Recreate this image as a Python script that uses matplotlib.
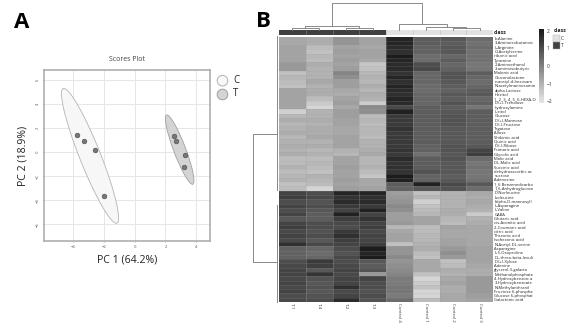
import numpy as np
import matplotlib
matplotlib.use("Agg")
import matplotlib.pyplot as plt
from matplotlib.colors import LinearSegmentedColormap
from matplotlib.patches import Ellipse, Circle, Rectangle

plt.rcParams["font.family"] = ["Open Sans", "DejaVu Sans"]

W, H = 573, 324

# ── Scores plot data ─────────────────────────────────────────────────────── #
C_PC1 = [-3.74, -3.31, -2.58, -2.01]
C_PC2 = [1.44, 0.92, 0.19, -3.64]
T_PC1 = [2.58, 2.66, 3.25, 3.20]
T_PC2 = [1.36, 0.97, -0.22, -1.19]
PCA_TICKS_X = [-4, -2, 0, 2, 4]
PCA_TICKS_Y = [-6, -4, -2, 0, 2, 4, 6]

# ── Heatmap data ─────────────────────────────────────────────────────────── #
METABOLITES = [
    "b-Alanine", "3-Aminoisobutanoic", "L-Arginine", "O-Acetylserine", "ribonic acid",
    "Tyramine", "2-Aminoethanol", "3-aminoisobutyric", "Malonic acid", "Gluconolactone",
    "n-acetyl-d-hexosam", "N-acetylmannosamin", "alpha-Lactose", "Hexitol",
    "1, 2, 3, 4, 5, 6-HEXA-O", "D-(+)-Trehalose", "hydroxylamine", "L-sitol", "Glucose",
    "D-(+)-Mannose", "D-(-)-Fructose", "Tagatose", "Allose", "Shikimic acid", "Quinic acid",
    "D-(-)-Ribose", "Fumaric acid", "Glycolic acid", "Malic acid", "DL-Malic acid",
    "Succinic acid", "dehydroascorbic ac", "sucrose", "Adenosine", "1_6 Benzenedicarbo",
    "1_6-Anhydroglucose", "D-Norleucine", "Isoleucine", "(alpha-D-mannosyl)", "L-Asparagine",
    "L-Valine", "GABA", "Glutaric acid", "cis-Aconitic acid", "2-Coumaric acid", "citric acid",
    "Threonic acid", "Isohexonic acid", "N-Acetyl-DL-serine", "Asparagine", "L-5-Oxoproline",
    "DL-threo-beta-levuli", "D-(+)-Xylose", "Adenine", "glycerol-3-galacto",
    "Methanolphosphate", "4-Hydroxybenzoic a", "3-Hydroxybenzoate", "N-Methylanthranil",
    "Fructose 6-phospha", "Glucose 6-phosphat", "Galactonic acid",
]
SAMPLES = ["T-1", "T-4", "T-2", "T-3", "Control 4", "Control 1", "Control 2", "Control 3"]

T1 = [-0.8, -0.8, -0.7, -0.7, -0.7, -0.7, -0.5, -0.5, -1.3, -1.1,
      -1.2, -1.3, -0.7, -0.7, -0.7, -0.7, -0.7, -1.6, -1.1, -0.9,
      -1.1, -1.0, -0.9, -1.1, -1.0, -0.9, -1.0, -0.9, -1.2, -1.2,
      -1.0, -1.2, -1.1, -1.0, -1.3, -1.2,
      1.2, 1.3, 1.0, 1.2, 1.0, 1.2, 0.8, 1.2, 1.3, 1.1,
      1.2, 1.1, 1.6, 0.6, 0.6, 0.6, 1.0, 1.1, 1.2, 1.2,
      1.1, 1.2, 1.1, 1.2, 1.0, 1.1]
T4 = [-0.9, -0.9, -1.2, -1.3, -1.1, -1.2, -0.9, -1.0, -1.0, -1.0,
      -0.8, -1.0, -0.9, -0.9, -1.2, -1.5, -1.7, -1.0, -1.0, -0.9,
      -1.0, -0.9, -0.9, -0.8, -1.0, -0.9, -1.1, -1.0, -1.2, -1.1,
      -1.2, -1.3, -1.0, -1.1, -1.2, -1.7,
      1.0, 1.1, 0.9, 1.0, 0.8, 0.7, 0.7, 1.0, 1.0, 0.9,
      1.0, 0.8, 1.1, 0.5, 0.4, 0.5, 1.4, 1.3, 0.8, 1.5,
      0.9, 0.8, 0.9, 0.8, 0.9, 1.0]
T2 = [-0.4, -0.4, -0.7, -0.6, -0.7, -0.6, -0.7, -0.6, -0.1, -0.3,
      -0.6, -0.6, -0.8, -0.9, -0.7, -0.6, -0.8, -0.6, -0.6, -0.7,
      -0.7, -0.8, -0.8, -0.7, -0.7, -0.7, -1.0, -1.1, -0.7, -0.7,
      -0.6, -0.7, -0.7, -0.6, -0.7, -0.6,
      1.8, 1.5, 1.7, 1.4, 1.2, 1.9, 1.3, 1.1, 1.0, 1.4,
      1.6, 1.3, 1.2, 1.0, 0.9, 1.1, 1.0, 1.1, 1.2, 1.1,
      1.2, 1.2, 1.6, 1.1, 1.2, 1.7]
T3 = [-0.7, -0.7, -0.8, -0.7, -0.7, -0.8, -1.4, -1.3, -1.1, -1.0,
      -1.1, -0.9, -1.1, -0.9, -1.0, -1.5, -0.2, -0.3, -1.2, -1.1,
      -1.2, -1.1, -1.1, -1.2, -1.0, -1.0, -0.9, -0.8, -1.1, -1.1,
      -1.0, -1.2, -1.4, -0.8, -0.8, -0.7,
      1.8, 1.6, 1.7, 1.4, 1.9, 1.2, 1.5, 1.2, 1.3, 1.1,
      1.2, 1.2, 1.3, 2.0, 1.8, 2.0, 0.8, 0.7, 0.9, -0.5,
      1.2, 1.0, 1.0, 0.9, 1.0, 0.9]
C4 = [1.8, 1.8, 1.7, 1.6, 2.0, 1.8, 1.7, 1.7, 1.5, 1.8,
      1.6, 1.8, 1.7, 1.6, 1.8, 1.7, 1.1, 1.9, 1.4, 1.4,
      1.4, 1.5, 1.4, 1.4, 1.4, 1.4, 1.5, 1.4, 1.7, 1.5,
      1.6, 1.5, 2.0, 1.9, 0.7, 0.6,
      -0.6, -0.5, -0.4, -0.2, -0.3, -0.6, -0.6, -0.5, -1.1, -0.8,
      -0.7, -0.7, -1.3, -0.4, -0.4, -0.2, -0.4, -0.3, -0.2, -0.1,
      0.1, 0.1, 0.2, 0.2, 0.1, 0.4]
C1 = [0.7, 0.7, 0.6, 0.6, 0.4, 0.4, 1.0, 1.1, 0.5, 0.5,
      0.5, 0.4, 0.4, 0.5, 0.5, 0.5, 0.7, 0.7, 0.7, 0.7,
      0.7, 0.7, 0.7, 0.7, 0.7, 0.6, 0.6, 0.3, 0.7, 0.7,
      0.7, 0.9, 0.6, 0.6, 1.9, 0.8,
      -1.3, -1.1, -1.6, -1.3, -1.2, -1.1, -0.7, -0.7, -1.2, -1.2,
      -1.1, -1.1, -1.0, -0.9, -1.2, -1.3, -0.8, -0.8, -0.8, -1.3,
      -1.7, -1.5, -1.3, -1.7, -1.7, -1.2]
C2 = [0.8, 0.7, 0.8, 0.8, 0.5, 0.7, 0.5, 0.6, 0.9, 0.9,
      0.8, 0.7, 0.6, 0.8, 0.7, 0.9, 0.7, 0.8, 0.9, 0.9,
      0.9, 0.8, 0.8, 0.8, 0.8, 0.9, 0.9, 0.8, 0.9, 0.8,
      0.8, 0.8, 0.7, 0.8, 1.1, 0.9,
      -1.0, -1.0, -1.0, -1.0, -0.9, -0.9, -1.1, -1.2, -0.7, -0.8,
      -0.8, -0.7, -0.7, -0.5, -0.3, -0.5, -1.3, -1.2, -0.9, -1.0,
      -0.8, -0.7, -0.9, -0.9, -0.8, -0.8]
C3 = [0.4, 0.3, 0.4, 0.3, 0.3, 0.3, 0.2, 0.2, 0.7, 0.5,
      0.4, 0.5, 0.7, 0.8, 0.5, 0.6, 0.2, 0.7, 0.7, 0.7,
      0.7, 0.7, 0.7, 0.7, 0.7, 0.8, 1.2, 1.3, 0.4, 0.2,
      0.3, 0.2, 0.2, 0.3, 0.8, 0.4,
      -0.8, -0.9, -0.8, -0.9, -1.0, -1.5, -1.0, -0.9, -0.8, -0.8,
      -0.8, -0.8, -0.8, -0.7, -0.7, -0.7, -0.7, -0.8, -0.9, -0.9,
      -0.5, -0.5, -0.5, -0.5, -0.6, -0.7]

# sample class per column: 1 = T, 0 = C
CLASS_ROW = [1, 1, 1, 1, 0, 0, 0, 0]
CBAR_TICKS = [2, 1, 0, -1, -2]

GREYS = LinearSegmentedColormap.from_list("greys", ["#e4e4e4", "#1c1c1c"])
CLASS_CMAP = LinearSegmentedColormap.from_list("cls", ["#e2e2e2", "#404040"])


def px_axes(fig, x0, y0, x1, y1):
    # axes from pixel box, y counted from the top of the image
    return fig.add_axes([x0 / W, 1 - y1 / H, (x1 - x0) / W, (y1 - y0) / H])


fig = plt.figure(figsize=(W / 100, H / 100), dpi=100)

# ── A: scores plot ───────────────────────────────────────────────────────── #
ax = px_axes(fig, 44, 70.3, 210, 240.7)
ax.set_xlim(-5.89, 4.89)
ax.set_ylim(-7.37, 6.83)
ax.grid(True, color="#e6e6e6", linewidth=0.7)
ax.set_axisbelow(True)
ax.add_patch(Ellipse((-2.9, -0.3), 11.76, 1.4, angle=-72.9,
                     facecolor="#f7f7f7", edgecolor="#b4b4b4", linewidth=0.6))
ax.add_patch(Ellipse((2.92, 0.22), 6.02, 0.8, angle=-73.7,
                     facecolor="#d4d4d4", edgecolor="#a0a0a0", linewidth=0.6))
ax.scatter(C_PC1, C_PC2, s=11, color="#777777", edgecolor="#555555", linewidth=0.5, zorder=3)
ax.scatter(T_PC1, T_PC2, s=11, color="#777777", edgecolor="#555555", linewidth=0.5, zorder=3)
ax.set_xticks(PCA_TICKS_X)
ax.set_yticks(PCA_TICKS_Y)
ax.tick_params(labelsize=3, length=1, width=0.4, color="#888888", labelcolor="#555555", pad=2)
plt.setp(ax.get_yticklabels(), rotation=90, va="center")
for s in ax.spines.values():
    s.set_color("#a8a8a8")
    s.set_linewidth(1.1)
ax.set_title("Scores Plot", fontsize=5, color="#444444", pad=7)
ax.set_xlabel("PC 1 (64.2%)", fontsize=7.6, color="#222222", labelpad=4)
ax.set_ylabel("PC 2 (18.9%)", fontsize=7.6, color="#222222", labelpad=5)

# ── B: heatmap ───────────────────────────────────────────────────────────── #
matrix = np.array([T1, T4, T2, T3, C4, C1, C2, C3]).T
hm = px_axes(fig, 279, 36.5, 493, 302)
hm.pcolormesh(matrix, cmap=GREYS, vmin=-2, vmax=2, linewidth=0)
hm.set_ylim(len(METABOLITES), 0)
# faint pheatmap cell borders
hm.hlines(np.arange(1, len(METABOLITES)), 0, len(SAMPLES), color="#a0a0a0", linewidth=0.4, alpha=0.3)
hm.vlines(np.arange(1, len(SAMPLES)), 0, len(METABOLITES), color="#a0a0a0", linewidth=0.4, alpha=0.6)
hm.set_xticks(np.arange(len(SAMPLES)) + 0.5)
hm.set_xticklabels(SAMPLES, rotation=270, fontsize=3.2, color="#333333")
hm.set_yticks(np.arange(len(METABOLITES)) + 0.5)
hm.set_yticklabels(METABOLITES, fontsize=3.0, color="#222222")
hm.yaxis.tick_right()
hm.tick_params(length=0, pad=1)
for s in hm.spines.values():
    s.set_visible(False)

# class annotation strip
cl = px_axes(fig, 279, 30, 493, 35)
cl.pcolormesh(np.array([CLASS_ROW]), cmap=CLASS_CMAP, vmin=0, vmax=1, linewidth=0)
cl.vlines(np.arange(1, len(SAMPLES)), 0, 1, color="#a8a8a8", linewidth=0.4, alpha=0.6)
cl.axis("off")

# colour bar
levels = np.linspace(-2.1, 2.1, 65)
cb = px_axes(fig, 539, 29, 544, 103)
cb.pcolormesh([0, 1], levels, (levels[:-1] + levels[1:])[:, None] / 2,
              cmap=GREYS, vmin=-2, vmax=2, linewidth=0)
cb.set_xticks([])
cb.yaxis.tick_right()
cb.set_yticks(CBAR_TICKS)
cb.tick_params(labelsize=3.6, length=0, pad=2, labelcolor="#333333")
for s in cb.spines.values():
    s.set_visible(False)

# ── overlay in image pixels: letters, legends, dendrograms ───────────────── #
ov = fig.add_axes([0, 0, 1, 1], zorder=5)
ov.set_xlim(0, W)
ov.set_ylim(H, 0)
ov.axis("off")

ov.text(14, 23, "A", fontsize=16, fontweight="bold", color="black", va="center")
ov.text(256, 21.5, "B", fontsize=16, fontweight="bold", color="black", va="center")

ov.add_patch(Circle((222.5, 80.7), 5.3, facecolor="#f8f8f8", edgecolor="#b0b0b0", linewidth=0.7))
ov.add_patch(Circle((222.5, 94.5), 5.3, facecolor="#d4d4d4", edgecolor="#a0a0a0", linewidth=0.7))
ov.text(233, 80.5, "C", fontsize=7, color="#222222", va="center")
ov.text(233, 94, "T", fontsize=7, color="#222222", va="center")

ov.text(494, 32.5, "class", fontsize=3.8, fontweight="bold", color="#222222", va="center")
ov.text(554, 31, "class", fontsize=3.8, fontweight="bold", color="#222222", va="center")
ov.add_patch(Rectangle((553, 35), 7, 6.5, facecolor="#e2e2e2", edgecolor="#b0b0b0", linewidth=0.3))
ov.add_patch(Rectangle((553, 42), 7, 6.5, facecolor="#404040", edgecolor="#b0b0b0", linewidth=0.3))
ov.text(561, 38.3, "C", fontsize=3.6, color="#333333", va="center")
ov.text(561, 45.3, "T", fontsize=3.6, color="#333333", va="center")

# top dendrogram
TOP_TREE = [
    ([332, 332, 422, 422], [26, 3.3, 3.3, 24]),
    ([305, 305, 359, 359], [28, 26, 26, 27.5]),
    ([292, 292, 319, 319], [30, 28, 28, 30]),
    ([346, 346, 373, 373], [30, 27.5, 27.5, 30]),
    ([399, 399, 447, 447], [30, 24, 24, 27]),
    ([426, 426, 466, 466], [30, 27, 27, 28]),
    ([453, 453, 480, 480], [30, 28, 28, 30]),
]
for xs, ys in TOP_TREE:
    ov.plot(xs, ys, color="#777777", linewidth=0.6)

# left dendrogram
LEFT_TREE = [
    ([277, 253, 253, 277], [134, 134, 262, 262]),
    ([277, 277], [36, 190]),
    ([277, 277], [205, 302]),
]
for xs, ys in LEFT_TREE:
    ov.plot(xs, ys, color="#888888", linewidth=0.7)

fig.savefig("out.png", dpi=100)
